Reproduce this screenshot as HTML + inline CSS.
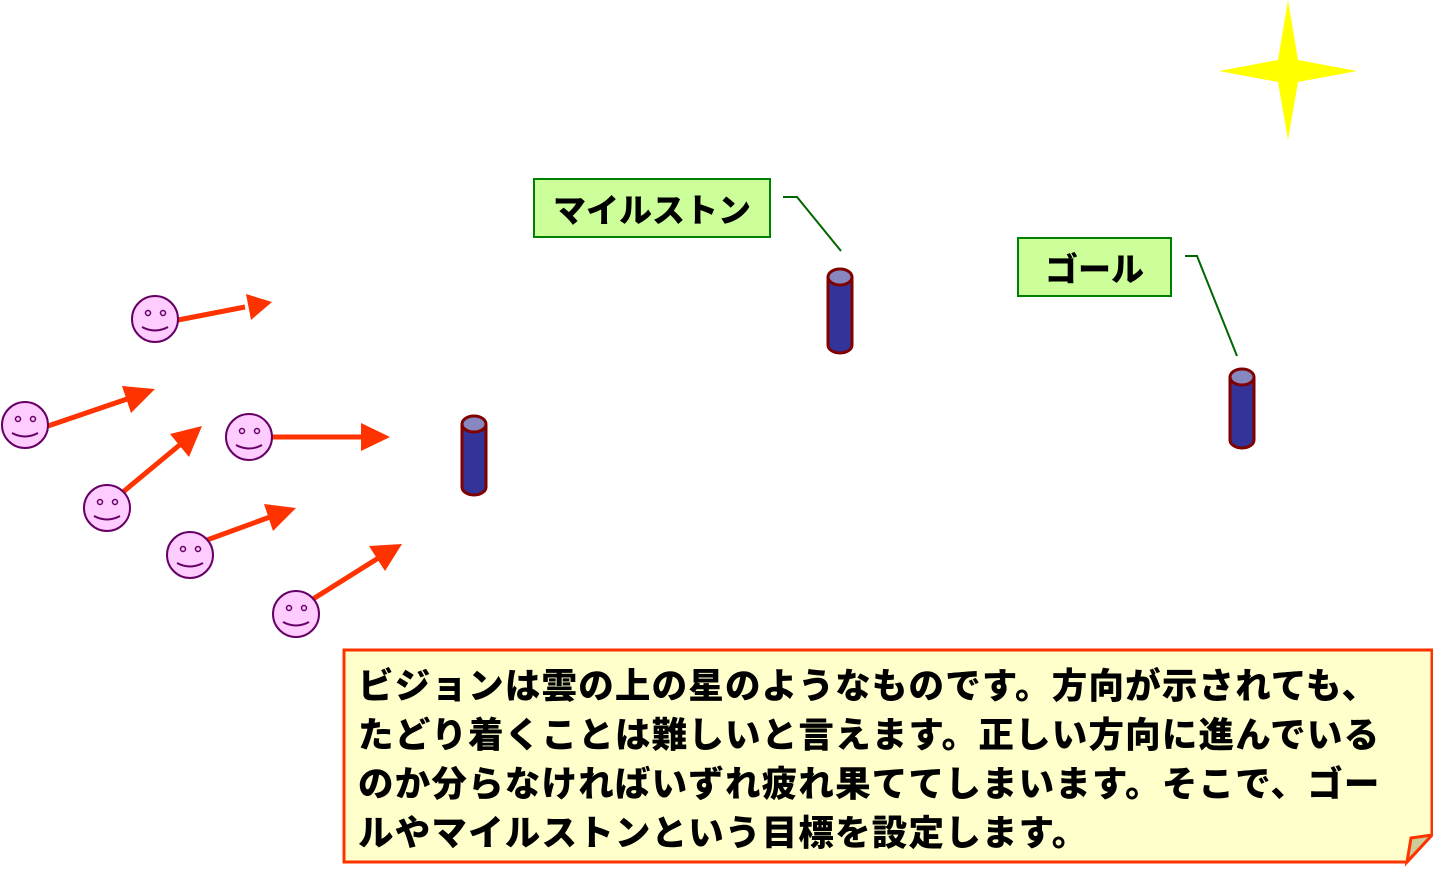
<!DOCTYPE html>
<html><head><meta charset="utf-8"><style>
body{margin:0;width:1433px;height:881px;background:#fff;overflow:hidden;position:relative;font-family:"Liberation Sans","Noto Sans CJK JP",sans-serif}
.lbl{position:absolute;background:#ccff99;border:2px solid #008000;font-weight:900;font-size:33px;display:flex;align-items:center;justify-content:center;box-sizing:border-box;color:#000}
.txt{position:absolute;left:358px;top:662px;width:1070px;font-weight:900;font-size:35.5px;letter-spacing:1.2px;line-height:49px;color:#000;white-space:nowrap}
</style></head><body>
<svg width="1433" height="881" style="position:absolute;left:0;top:0">
<defs>
<g id="face"><circle r="23" fill="#ffccff" stroke="#660066" stroke-width="2"/><circle cx="-7" cy="-6" r="2.5" fill="none" stroke="#660066" stroke-width="1.5"/><circle cx="8" cy="-6" r="2.5" fill="none" stroke="#660066" stroke-width="1.5"/><path d="M-13 8 Q0 15 13 8" fill="none" stroke="#660066" stroke-width="2"/></g>
</defs>
<polygon points="1288,0 1298,60 1357,71 1298,82 1288,140 1278,82 1219,71 1278,60" fill="#ffff00"/>
<path d="M344,650 H1432 V835 L1407,862 H344 Z" fill="#ffffcc" stroke="#ff3300" stroke-width="3"/>
<polygon points="1407,862 1411,838 1432,835" fill="#cccc99" stroke="#ff3300" stroke-width="3"/>
<g stroke="#ff3300" stroke-width="5" fill="#ff3300">
<line x1="178" y1="320" x2="245" y2="307"/><polygon points="272,302 246,294 251,320" stroke="none"/>
<line x1="48" y1="426" x2="130" y2="398"/><polygon points="155,389 122,386 131,413" stroke="none"/>
<line x1="123" y1="492" x2="182" y2="443"/><polygon points="202,426 170,434 189,457" stroke="none"/>
<line x1="272" y1="437" x2="362" y2="437"/><polygon points="390,437 361,423 361,451" stroke="none"/>
<line x1="207" y1="540" x2="270" y2="517"/><polygon points="296,508 264,504 273,531" stroke="none"/>
<line x1="313" y1="599" x2="380" y2="557"/><polygon points="402,544 369,546 385,571" stroke="none"/>
</g>
<use href="#face" x="155" y="319"/><use href="#face" x="25" y="425"/><use href="#face" x="107" y="508"/>
<use href="#face" x="249" y="437"/><use href="#face" x="190" y="555"/><use href="#face" x="296" y="614"/>
<g stroke="#800000" stroke-width="3">
<path d="M462,424 V487 A12,8 0 0 0 486,487 V424" fill="#333399"/><ellipse cx="474" cy="424" rx="12" ry="8" fill="#8888c0"/>
<path d="M828,277 V345 A12,8 0 0 0 852,345 V277" fill="#333399"/><ellipse cx="840" cy="277" rx="12" ry="8" fill="#8888c0"/>
<path d="M1230,377 V440 A12,8 0 0 0 1254,440 V377" fill="#333399"/><ellipse cx="1242" cy="377" rx="12" ry="8" fill="#8888c0"/>
</g>
<polyline points="783,197 797,197 841,251" fill="none" stroke="#006600" stroke-width="2"/>
<polyline points="1185,256 1197,256 1237,356" fill="none" stroke="#006600" stroke-width="2"/>
</svg>
<div class="lbl" style="left:533px;top:178px;width:238px;height:60px">マイルストン</div>
<div class="lbl" style="left:1017px;top:237px;width:155px;height:60px">ゴール</div>
<div class="txt">ビジョンは雲の上の星のようなものです。方向が示されても、<br>たどり着くことは難しいと言えます。正しい方向に進んでいる<br>のか分らなければいずれ疲れ果ててしまいます。そこで、ゴー<br>ルやマイルストンという目標を設定します。</div>
</body></html>
